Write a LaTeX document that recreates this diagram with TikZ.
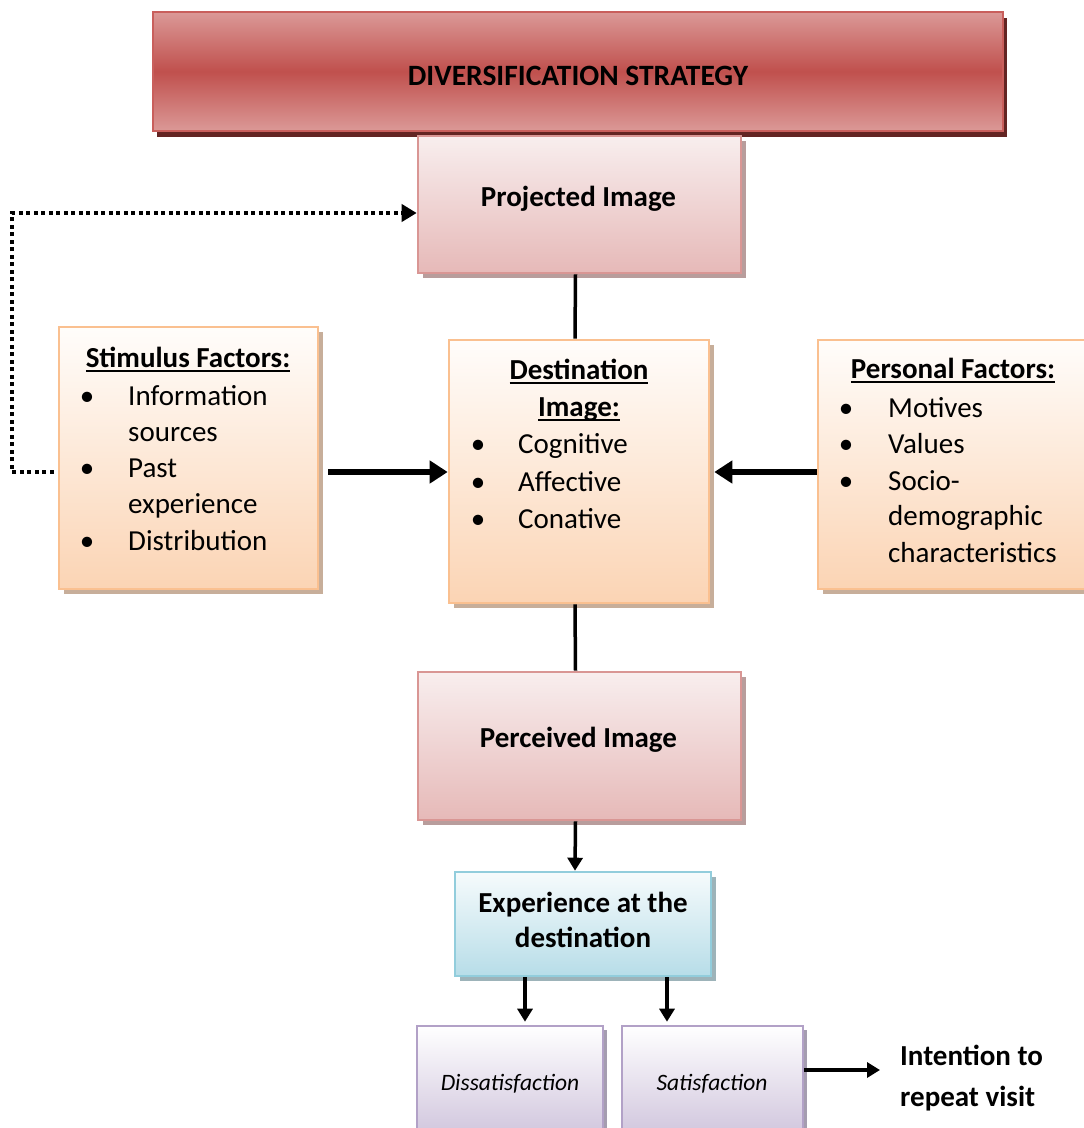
\documentclass[tikz,border=0pt]{standalone}
\usepackage{fontspec}
\setmainfont{Carlito}
\usetikzlibrary{arrows.meta,shadows}

% palette
\definecolor{redmid}{HTML}{C0504D}
\definecolor{redlight}{HTML}{DB9997}
\definecolor{rededge}{HTML}{C95F5C}
\definecolor{redshadow}{HTML}{632523}
\definecolor{pinktop}{HTML}{F8EEEE}
\definecolor{pinkbot}{HTML}{E6B9B8}
\definecolor{pinkedge}{HTML}{D99694}
\definecolor{pinkshadow}{HTML}{B89D9C}
\definecolor{orangetop}{HTML}{FFFDFB}
\definecolor{orangebot}{HTML}{FBD4B4}
\definecolor{orangeedge}{HTML}{FAC090}
\definecolor{orangeshadow}{HTML}{C7AE9A}
\definecolor{bluetop}{HTML}{F6FBFC}
\definecolor{bluebot}{HTML}{B7DDE8}
\definecolor{blueedge}{HTML}{92CDDC}
\definecolor{blueshadow}{HTML}{9DB3B9}
\definecolor{purpletop}{HTML}{FFFFFF}
\definecolor{purplebot}{HTML}{CCC0DA}
\definecolor{purpleedge}{HTML}{B2A1C7}
\definecolor{purpleshadow}{HTML}{A59DB0}

% underlined heading text
\newcommand\ulhead[1]{\setbox0=\hbox{#1}\rlap{\rule[-5pt]{\wd0}{1.8pt}}\box0}

\tikzset{
  panel/.style={rectangle, inner sep=0pt, line width=2.6pt},
  redpanel/.style={panel, draw=rededge, top color=redlight, bottom color=redlight,
    middle color=redmid,
    drop shadow={shadow xshift=4pt, shadow yshift=-6pt, fill=redshadow, opacity=1}},
  pinkpanel/.style={panel, draw=pinkedge, top color=pinktop, bottom color=pinkbot,
    drop shadow={shadow xshift=5pt, shadow yshift=-5pt, fill=pinkshadow, opacity=1}},
  orangepanel/.style={panel, draw=orangeedge, top color=orangetop, bottom color=orangebot,
    drop shadow={shadow xshift=5pt, shadow yshift=-5pt, fill=orangeshadow, opacity=1}},
  bluepanel/.style={panel, draw=blueedge, top color=bluetop, bottom color=bluebot,
    drop shadow={shadow xshift=5pt, shadow yshift=-5pt, fill=blueshadow, opacity=1}},
  purplepanel/.style={panel, draw=purpleedge, top color=purpletop, bottom color=purplebot,
    drop shadow={shadow xshift=4pt, shadow yshift=-4pt, fill=purpleshadow, opacity=1}},
  txt/.style={inner sep=0pt, font=\fontsize{29}{36}\selectfont},
  ctxt/.style={txt, anchor=base},
  ltxt/.style={txt, anchor=base west},
  btxt/.style={ctxt, font=\fontsize{29}{36}\selectfont\bfseries},
  link/.style={line width=3.5pt},
  thinarrow/.style={line width=3.5pt, -{Triangle[length=13pt,width=15pt]}},
  bigarrow/.style={line width=6.5pt, -{Triangle[length=18pt,width=22pt]}},
  dotarrow/.style={line width=4pt, dash pattern=on 4pt off 3.5pt,
    -{Triangle[length=15pt,width=17pt]}},
}

\begin{document}
\begin{tikzpicture}[x=1pt,y=-1pt]
\useasboundingbox (0,0) rectangle (1084,1128);
\begin{scope}
\clip (0,0) rectangle (1084,1128);

% boxes
\node[redpanel, minimum width=850pt, minimum height=119pt] (title) at (578,71.5) {};
\node[pinkpanel, minimum width=323pt, minimum height=137pt] (proj) at (579.5,204.5) {};
\node[orangepanel, minimum width=260pt, minimum height=263pt] (dest) at (579,471.5) {};
\node[orangepanel, minimum width=259pt, minimum height=262pt] (stim) at (188.5,458) {};
\node[orangepanel, minimum width=290pt, minimum height=249pt] (pers) at (963,464.5) {};
\node[pinkpanel, minimum width=323pt, minimum height=148pt] (perc) at (579.5,746) {};
\node[bluepanel, minimum width=256pt, minimum height=104pt] (exp) at (583,924) {};
\node[purplepanel, minimum width=186pt, minimum height=120pt] (dis) at (510,1086) {};
\node[purplepanel, minimum width=181pt, minimum height=120pt] (sat) at (712.5,1086) {};

% texts
\node[btxt, font=\fontsize{29.5}{36}\selectfont\bfseries] (ttitle) at (578,85) {DIVERSIFICATION STRATEGY};
\node[btxt] (tproj) at (578.5,206) {Projected Image};
\node[btxt] (tperc) at (578.5,747) {Perceived Image};
\node[btxt] (texp1) at (583,912) {Experience at the};
\node[btxt] (texp2) at (583,947) {destination};
\node[ctxt, font=\fontsize{23.5}{28}\selectfont\itshape] (tdis) at (510,1090) {Dissatisfaction};
\node[ctxt, font=\fontsize{23.5}{28}\selectfont\itshape] (tsat) at (712,1090) {Satisfaction};
\node[ltxt, font=\fontsize{29}{36}\selectfont\bfseries] (int1) at (900,1065) {Intention to};
\node[ltxt, font=\fontsize{29}{36}\selectfont\bfseries] (int2) at (900,1106) {repeat visit};

% stimulus factors
\node[btxt] (sh) at (188,367) {\ulhead{Stimulus Factors:}};
\node[ctxt] (sb1) at (87,405) {•};
\node[ltxt] (s1) at (128,405) {Information};
\node[ltxt] (s2) at (128,441) {sources};
\node[ctxt] (sb2) at (87,477) {•};
\node[ltxt] (s3) at (128,477) {Past};
\node[ltxt] (s4) at (128,513) {experience};
\node[ctxt] (sb3) at (87,550) {•};
\node[ltxt] (s5) at (128,550) {Distribution};

% destination image
\node[btxt] (dh1) at (579,379) {\ulhead{Destination}};
\node[btxt] (dh2) at (579,416) {\ulhead{Image:}};
\node[ctxt] (db1) at (478,453) {•};
\node[ltxt] (d1) at (518,453) {Cognitive};
\node[ctxt] (db2) at (478,491) {•};
\node[ltxt] (d2) at (518,491) {Affective};
\node[ctxt] (db3) at (478,528) {•};
\node[ltxt] (d3) at (518,528) {Conative};

% personal factors
\node[btxt] (ph) at (953,378) {\ulhead{Personal Factors:}};
\node[ctxt] (pb1) at (846,417) {•};
\node[ltxt] (p1) at (888,417) {Motives};
\node[ctxt] (pb2) at (846,453) {•};
\node[ltxt] (p2) at (888,453) {Values};
\node[ctxt] (pb3) at (846,490) {•};
\node[ltxt] (p3) at (888,490) {Socio-};
\node[ltxt] (p4) at (888,525) {demographic};
\node[ltxt] (p5) at (888,562) {characteristics};

% connectors
\draw[link] ([xshift=-4pt]proj.south) -- ([xshift=-4pt]dest.north);
\draw[link] ([xshift=-4pt]dest.south) -- ([xshift=-4pt]perc.north);
\draw[thinarrow] ([xshift=-4pt]perc.south) -- ([xshift=-8pt]exp.north);

\coordinate (sa) at ([xshift=9pt,yshift=-14pt]stim.east);
\coordinate (sb) at ([yshift=-0.5pt]dest.west);
\draw[bigarrow] (sa) -- (sb);

\coordinate (pa) at ([yshift=-7.5pt]pers.west);
\coordinate (pbend) at ([xshift=4pt,yshift=-0.5pt]dest.east);
\draw[bigarrow] (pa) -- (pbend);

\coordinate (fb1) at ([xshift=-4pt,yshift=-14pt]stim.west);
\coordinate (fb2) at ([yshift=-8.5pt]proj.west);
\coordinate (fbx) at (12,300);
\draw[dotarrow] (fb1) -- (fb1 -| fbx) |- (fb2);

\coordinate (e1) at ([xshift=15pt,yshift=3pt]dis.north);
\coordinate (e2) at ([xshift=-45.5pt,yshift=3pt]sat.north);
\draw[thinarrow] (e1 |- exp.south) -- (e1);
\draw[thinarrow] (e2 |- exp.south) -- (e2);

\coordinate (sr) at ([yshift=16pt]sat.east);
\coordinate (ie) at (880,1070);
\draw[thinarrow] (sr) -- (ie);
\end{scope}
\end{tikzpicture}
\end{document}
